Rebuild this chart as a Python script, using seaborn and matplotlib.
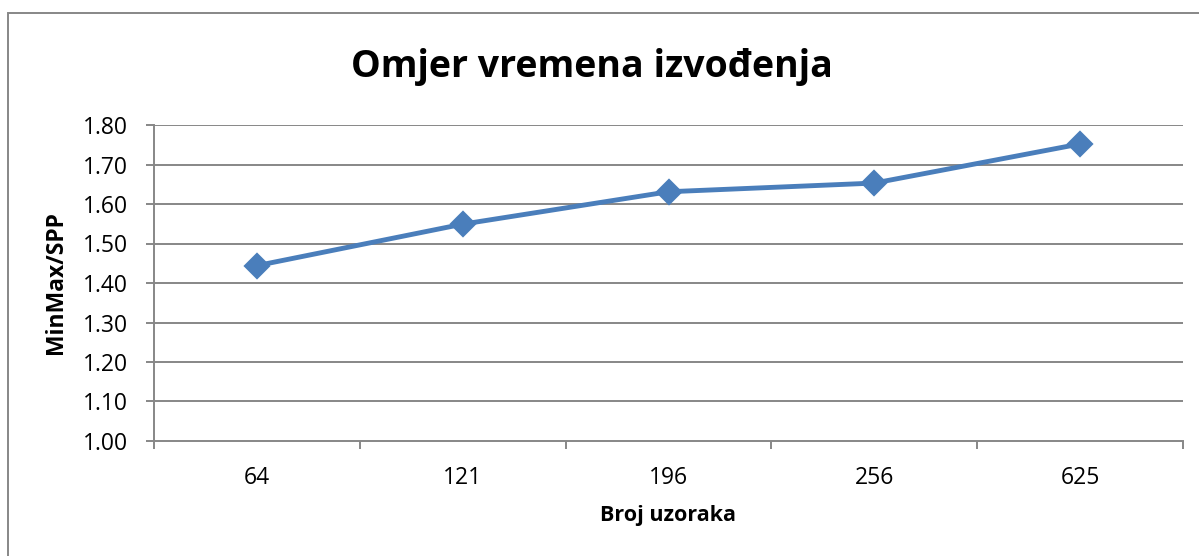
import matplotlib
matplotlib.use("Agg")
import matplotlib.pyplot as plt
from matplotlib.patches import Rectangle
from matplotlib.ticker import FormatStrFormatter
import seaborn as sns
import pandas as pd

# Execution-time ratio MinMax / SPP per sample count
sample_counts = ["64", "121", "196", "256", "625"]
ratio_values = [1.444, 1.549, 1.631, 1.653, 1.752]
y_ticks = [1.00, 1.10, 1.20, 1.30, 1.40, 1.50, 1.60, 1.70, 1.80]

title_text = "Omjer vremena izvođenja"
x_label = "Broj uzoraka"
y_label = "MinMax/SPP"

df = pd.DataFrame({"uzorci": sample_counts, "omjer": ratio_values})

sns.set_theme(style="white")
plt.rcParams["font.family"] = ["Open Sans", "DejaVu Sans"]

W, H = 1199, 556
fig = plt.figure(figsize=(W / 100, H / 100), dpi=100)
fig.patch.set_facecolor("white")

left, right, top, bottom = 154, 1183, 125, 441
ax = fig.add_axes([left / W, 1 - bottom / H, (right - left) / W, (bottom - top) / H])

grid_col = "#878787"
line_col = "#4A7EBB"

sns.pointplot(data=df, x="uzorci", y="omjer", order=sample_counts,
              color=line_col, markers="D", linestyles="-", errorbar=None,
              markersize=11, linewidth=3.5, ax=ax, zorder=5)

ax.set_xlim(-0.5, len(sample_counts) - 0.5)
ax.set_ylim(y_ticks[0], y_ticks[-1])
ax.set_yticks(y_ticks)
ax.yaxis.set_major_formatter(FormatStrFormatter("%.2f"))

# Horizontal gridlines
for yv in y_ticks[1:]:
    ax.axhline(yv, color=grid_col, lw=1.4, zorder=1)

for side in ["top", "right"]:
    ax.spines[side].set_visible(False)
for side in ["left", "bottom"]:
    ax.spines[side].set_visible(True)
    ax.spines[side].set_color(grid_col)
    ax.spines[side].set_linewidth(1.4)

# Category boundary ticks on the x axis
ax.set_xticks([i - 0.5 for i in range(len(sample_counts) + 1)], minor=True)
ax.tick_params(axis="x", which="minor", direction="out", length=6,
               width=1.4, color=grid_col, bottom=True)
ax.tick_params(axis="x", which="major", length=0, pad=18,
               labelsize=16.5, labelcolor="black")
ax.tick_params(axis="y", which="major", direction="out", length=6,
               width=1.4, color=grid_col, left=True, pad=13,
               labelsize=16.5, labelcolor="black")

ax.set_xlabel("")
ax.set_ylabel("")

fig.text(56 / W, 1 - 283 / H, y_label, rotation=90, ha="center", va="center",
         fontsize=16.5, fontweight="bold", color="black")
fig.text((left + right) / 2 / W, 1 - 516 / H, x_label, ha="center", va="center",
         fontsize=15.5, fontweight="bold", color="black")
fig.text(592 / W, 1 - 67 / H, title_text, ha="center", va="center",
         fontsize=27, fontweight="bold", color="black")

# Chart-area border
fig.add_artist(Rectangle((8 / W, -0.1), 1.2, 1.1 - 13 / H,
                         transform=fig.transFigure, fill=False,
                         edgecolor=grid_col, lw=1.4))

fig.savefig("out.png", dpi=100, facecolor="white")
